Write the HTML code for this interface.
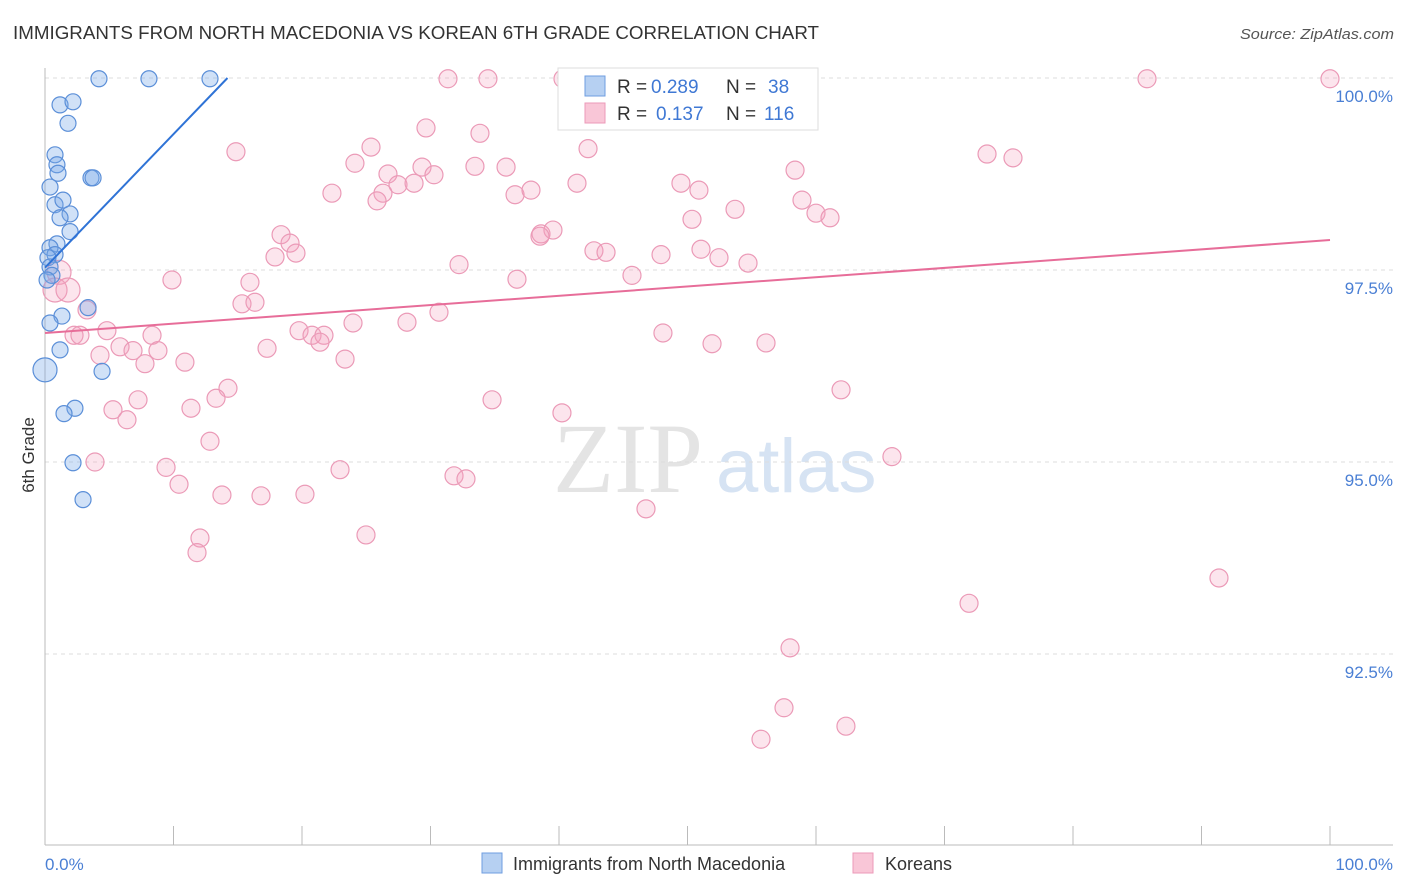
<!DOCTYPE html>
<html><head><meta charset="utf-8">
<style>
body{margin:0;background:#fff;font-family:"Liberation Sans",sans-serif;}
svg{display:block}
</style></head>
<body>
<svg id="chart" width="1406" height="892" viewBox="0 0 1406 892">
<text x="13" y="39" font-size="18" fill="#333" textLength="806" lengthAdjust="spacingAndGlyphs">IMMIGRANTS FROM NORTH MACEDONIA VS KOREAN 6TH GRADE CORRELATION CHART</text>
<text x="1394" y="39" font-size="15" fill="#555" font-style="italic" text-anchor="end" textLength="154" lengthAdjust="spacingAndGlyphs">Source: ZipAtlas.com</text>
<text transform="translate(34,455) rotate(-90)" font-size="17" fill="#333" text-anchor="middle">6th Grade</text>
<g>
<text x="553" y="492" font-size="100" fill="#e4e4e4" font-family="Liberation Serif,serif">ZIP</text>
<text x="716" y="492" font-size="76" fill="#d6e3f3">atlas</text>
</g>
<g id="grid"></g>
<g id="axes"></g>
<g id="marks"></g>
<g id="trend"></g>
<g>
<rect x="558" y="68" width="260" height="62" fill="#fff" stroke="#ddd"/>
<rect x="585" y="76" width="20" height="20" fill="#b6d0f2" stroke="#6f9ee0"/>
<rect x="585" y="103" width="20" height="20" fill="#f9c6d7" stroke="#ec9ab8"/>
<text x="617" y="93" font-size="19" fill="#333">R =</text>
<text x="651" y="93" font-size="19" fill="#3f78d4">0.289</text>
<text x="726" y="93" font-size="19" fill="#333">N =</text>
<text x="768" y="93" font-size="19" fill="#3f78d4">38</text>
<text x="617" y="120" font-size="19" fill="#333">R =</text>
<text x="656" y="120" font-size="19" fill="#3f78d4">0.137</text>
<text x="726" y="120" font-size="19" fill="#333">N =</text>
<text x="764" y="120" font-size="19" fill="#3f78d4">116</text>
</g>
<g>
<rect x="482" y="853" width="20" height="20" fill="#b6d0f2" stroke="#6f9ee0"/>
<text x="513" y="870" font-size="18" fill="#333">Immigrants from North Macedonia</text>
<rect x="853" y="853" width="20" height="20" fill="#f9c6d7" stroke="#ec9ab8"/>
<text x="885" y="870" font-size="18" fill="#333">Koreans</text>
</g>
</svg>
<script>
const yTicks=[100,97.5,95,92.5];
const yTickLabels=["100.0%","97.5%","95.0%","92.5%"];
const xTickLabels=["0.0%","100.0%"];
const blueX=[4.20,8.09,12.84,1.17,2.18,1.79,0.78,0.93,1.01,3.58,3.74,0.39,0.78,1.40,1.95,1.17,1.95,0.93,0.39,0.78,0.23,0.39,0.54,0.16,3.35,1.32,0.39,1.17,0.00,4.44,2.33,1.48,2.18,2.96];
const blueY=[99.99,99.99,99.99,99.65,99.69,99.41,99.00,98.87,98.76,98.70,98.70,98.58,98.35,98.41,98.23,98.18,98.00,97.84,97.79,97.70,97.66,97.54,97.43,97.37,97.01,96.90,96.81,96.46,96.20,96.18,95.70,95.63,94.99,94.51];
const pinkX=[31.36,34.47,40.31,40.70,48.79,85.76,100,47.08,14.86,29.65,33.85,25.37,24.12,29.34,33.46,35.88,42.26,30.27,26.69,27.47,28.72,26.30,25.84,22.33,36.58,37.82,41.40,49.49,50.89,53.70,50.35,58.37,58.91,60.00,61.09,73.31,75.33,18.37,19.07,19.53,17.90,38.60,39.53,38.52,42.72,43.66,47.94,51.05,52.45,54.71,32.22,36.73,45.68,9.88,15.95,15.33,16.34,1.09,0.78,1.79,3.27,2.26,2.72,4.82,8.33,5.84,6.85,8.79,4.28,7.78,10.89,17.28,19.77,20.78,21.71,21.40,23.97,28.17,30.66,23.35,48.09,51.91,56.11,14.24,13.31,7.24,5.29,6.38,11.36,12.84,34.79,40.23,61.95,3.89,9.42,10.43,13.77,16.81,20.23,22.96,31.83,32.76,65.91,46.77,12.06,11.83,24.98,91.36,71.91,57.98,57.51,62.33,55.72];
const pinkY=[99.99,99.99,99.99,99.99,99.99,99.99,99.99,99.71,99.04,99.35,99.28,99.10,98.89,98.84,98.85,98.84,99.08,98.74,98.75,98.61,98.63,98.50,98.40,98.50,98.48,98.54,98.63,98.63,98.54,98.29,98.16,98.80,98.41,98.24,98.18,99.01,98.96,97.96,97.85,97.72,97.67,97.97,98.02,97.94,97.75,97.73,97.70,97.77,97.66,97.59,97.57,97.38,97.43,97.37,97.34,97.06,97.08,97.47,97.24,97.24,96.98,96.65,96.65,96.71,96.65,96.50,96.45,96.45,96.39,96.28,96.30,96.48,96.71,96.65,96.65,96.56,96.81,96.82,96.95,96.34,96.68,96.54,96.55,95.96,95.83,95.81,95.68,95.55,95.70,95.27,95.81,95.64,95.94,95.00,94.93,94.71,94.57,94.56,94.58,94.90,94.82,94.78,95.07,94.39,94.01,93.82,94.05,93.49,93.16,92.58,91.80,91.56,91.39];
const blueTrend=[0,97.53,14.2,100];
const pinkTrend=[0,96.68,100,97.89];
const X0=45,X1=1330,YT=78,PXPER=76.8;
const xs=v=>X0+(X1-X0)*v/100;
const ys=v=>YT+(100-v)*PXPER;
const NS="http://www.w3.org/2000/svg";
function mk(tag,attrs,parent){const e=document.createElementNS(NS,tag);for(const k in attrs)e.setAttribute(k,attrs[k]);parent.appendChild(e);return e;}
const grid=document.getElementById('grid'),axes=document.getElementById('axes'),marks=document.getElementById('marks'),trend=document.getElementById('trend');
yTicks.forEach((t,i)=>{
  const l=mk('line',{x1:45,x2:1393,y1:ys(t),y2:ys(t),stroke:'#ddd','stroke-dasharray':'4,4'},grid);
  
  
  const tx=mk('text',{x:1393,y:ys(t)+24,'font-size':17,fill:'#4a7fd4','text-anchor':'end'},axes);
  tx.textContent=yTickLabels[i];
  
  
});
let a=mk('line',{x1:45,x2:45,y1:68,y2:845,stroke:'#bbb'},axes);


a=mk('line',{x1:45,x2:1393,y1:845,y2:845,stroke:'#bbb'},axes);


for(let i=0;i<=10;i++){
  const t=mk('line',{x1:xs(i*10),x2:xs(i*10),y1:826,y2:845,stroke:'#bbb'},axes);
  
  
}
let xl=mk('text',{x:45,y:870,'font-size':17,fill:'#4a7fd4'},axes);xl.textContent=xTickLabels[0];


xl=mk('text',{x:1393,y:870,'font-size':17,fill:'#4a7fd4','text-anchor':'end'},axes);xl.textContent=xTickLabels[1];


pinkX.forEach((v,i)=>{
  const c=mk('circle',{cx:xs(v),cy:ys(pinkY[i]),r:(v<3&&pinkY[i]>97)?12:9,fill:'rgba(244,163,192,0.28)',stroke:'#eb9ab7','stroke-width':1.2},marks);
  
  
});
blueX.forEach((v,i)=>{
  const c=mk('circle',{cx:xs(v),cy:ys(blueY[i]),r:(v===0)?12:8,fill:'rgba(120,168,232,0.35)',stroke:'#5b8fd8','stroke-width':1.2},marks);
  
  
});
let tl=mk('line',{x1:xs(pinkTrend[0]),y1:ys(pinkTrend[1]),x2:xs(pinkTrend[2]),y2:ys(pinkTrend[3]),stroke:'#e76d99','stroke-width':2},trend);


tl=mk('line',{x1:xs(blueTrend[0]),y1:ys(blueTrend[1]),x2:xs(blueTrend[2]),y2:ys(blueTrend[3]),stroke:'#2f73d6','stroke-width':2},trend);


</script>
</body></html>
